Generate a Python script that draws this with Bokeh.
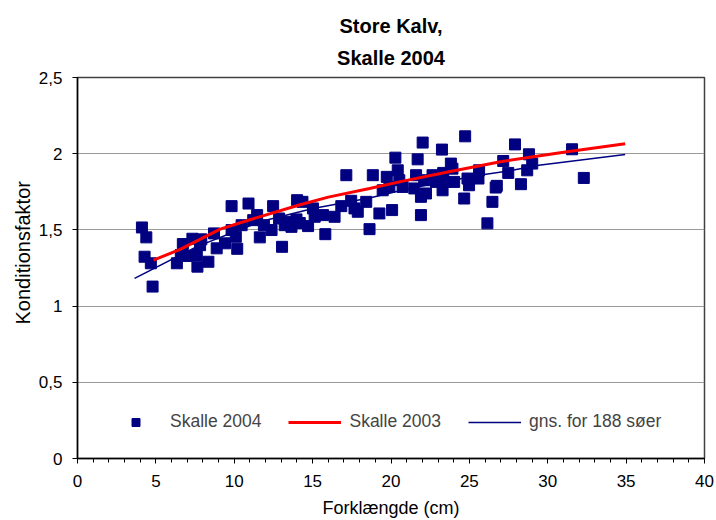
from bokeh.plotting import figure
from bokeh.models import FixedTicker, Legend, LegendItem, Title, Range1d
from bokeh.embed import file_html
from bokeh.resources import INLINE

# Data: Skalle 2004 points (forklængde cm, konditionsfaktor)
x2004 = [4.11, 4.39, 4.28, 4.68, 4.79, 6.72, 6.59, 6.34, 6.97, 7.33, 7.61, 7.65, 7.90, 7.82,
         8.35, 8.71, 8.88, 9.41, 9.83, 9.83, 10.10, 10.19, 10.47, 10.91, 11.21, 11.46, 11.63,
         11.89, 12.38, 12.48, 12.86, 13.05, 13.22, 13.54, 13.65, 14.01, 14.35, 13.97, 14.71,
         15.02, 15.13, 14.18, 15.66, 15.81, 16.40, 16.83, 17.15, 17.46, 17.67, 17.88, 18.42,
         18.63, 18.84, 19.26, 19.47, 19.73, 20.07, 20.28, 20.43, 19.90, 20.53, 20.74, 21.60,
         21.70, 21.49, 21.91, 21.91, 22.02, 22.23, 22.12, 22.65, 22.87, 23.25, 23.33, 23.40,
         23.29, 23.82, 23.92, 24.03, 24.67, 24.73, 24.88, 24.98, 25.62, 25.58, 26.15, 26.47,
         26.68, 26.75, 27.16, 27.48, 27.91, 28.29, 28.80, 28.69, 29.01, 31.55, 32.30]
y2004 = [1.516, 1.451, 1.324, 1.281, 1.128, 1.407, 1.335, 1.281, 1.329, 1.442, 1.335, 1.259,
         1.438, 1.400, 1.291, 1.477, 1.379, 1.412, 1.656, 1.499, 1.455, 1.376, 1.531, 1.673,
         1.564, 1.597, 1.451, 1.531, 1.499, 1.656, 1.575, 1.389, 1.531, 1.553, 1.520, 1.695,
         1.684, 1.569, 1.525, 1.641, 1.586, 1.545, 1.597, 1.472, 1.586, 1.656, 1.859, 1.691,
         1.641, 1.619, 1.684, 1.505, 1.859, 1.608, 1.760, 1.848, 1.630, 1.974, 1.891, 1.782,
         1.826, 1.782, 1.859, 1.963, 1.772, 1.717, 1.597, 2.073, 1.739, 1.826, 1.859, 1.815,
         2.027, 1.874, 1.815, 1.760, 1.935, 1.902, 1.815, 1.706, 2.114, 1.837, 1.793, 1.891,
         1.837, 1.543, 1.684, 1.778, 1.789, 1.952, 1.874, 2.061, 1.800, 1.996, 1.891, 1.935,
         2.029, 1.841]

# Skalle 2003 curve
x2003 = [4.85, 6.55, 9.1, 11.1, 14.2, 16.0, 18.63, 20.53, 23.7, 26.9, 30.9, 34.94]
y2003 = [1.302, 1.372, 1.505, 1.57, 1.665, 1.715, 1.772, 1.815, 1.882, 1.946, 2.008, 2.066]

# Average for 188 lakes
xgns = [3.64, 7.61, 11.63, 15.02, 18.63, 21.17, 25.62, 27.74, 29.43, 34.94]
ygns = [1.182, 1.39, 1.553, 1.641, 1.71, 1.772, 1.859, 1.891, 1.924, 1.994]

x_ticks = [0, 5, 10, 15, 20, 25, 30, 35, 40]
y_ticks = [0, 0.5, 1, 1.5, 2, 2.5]
y_tick_labels = {0: "0", 0.5: "0,5", 1: "1", 1.5: "1,5", 2: "2", 2.5: "2,5"}

FONT = "Liberation Sans"

p = figure(width=716, height=520, output_backend="svg", toolbar_location=None,
           x_range=Range1d(0, 40), y_range=Range1d(0, 2.5),
           min_border_left=77, min_border_right=12, min_border_top=77, min_border_bottom=61)
p.title = None
p.add_layout(Title(text="Skalle 2004", align="center", text_font=FONT, text_font_size="20px",
                   text_font_style="bold", text_color="black", standoff=17), "above")
p.add_layout(Title(text="Store Kalv,", align="center", text_font=FONT, text_font_size="20px",
                   text_font_style="bold", text_color="black", standoff=0), "above")

p.background_fill_color = "white"
p.border_fill_color = "white"
p.outline_line_color = "#404040"
p.outline_line_width = 1.5

p.xgrid.grid_line_color = None
p.ygrid.grid_line_color = "#999999"
p.ygrid.grid_line_width = 1
p.ygrid.ticker = FixedTicker(ticks=y_ticks)

p.xaxis.ticker = FixedTicker(ticks=x_ticks, minor_ticks=list(range(0, 41)))
p.yaxis.ticker = FixedTicker(ticks=y_ticks)
p.yaxis.major_label_overrides = y_tick_labels
for ax in (p.xaxis[0], p.yaxis[0]):
    ax.axis_line_color = "black"
    ax.axis_line_width = 1.5
    ax.major_tick_line_color = "black"
    ax.minor_tick_line_color = "black"
    ax.major_tick_in = 0
    ax.major_tick_out = 5
    ax.major_label_text_font = FONT
    ax.major_label_text_font_size = "17px"
    ax.major_label_text_color = "black"
    ax.axis_label_text_font = FONT
    ax.axis_label_text_font_style = "normal"
    ax.axis_label_text_color = "black"
p.xaxis.minor_tick_in = 0
p.xaxis.minor_tick_out = 4
p.xaxis.major_label_standoff = 11
p.yaxis.major_label_standoff = 10
p.yaxis.minor_tick_line_color = None
p.xaxis.axis_label = "Forklængde (cm)"
p.xaxis.axis_label_text_font_size = "18px"
p.xaxis.axis_label_standoff = 8

# y-axis title as a left-side title, placed slightly above the frame centre
p.add_layout(Title(text="Konditionsfaktor", align="left", text_font=FONT,
                   text_font_size="20px", text_font_style="normal", text_color="black",
                   standoff=4, offset=134), "left")

r_pts = p.scatter(x2004, y2004, marker="square", size=11, fill_color="#000080",
                  line_color="#000080")
r_red = p.line(x2003, y2003, line_color="#ff0000", line_width=3)
r_blue = p.line(xgns, ygns, line_color="#000080", line_width=1.5)

legend = Legend(items=[LegendItem(label="Skalle 2004", renderers=[r_pts]),
                       LegendItem(label="Skalle 2003", renderers=[r_red]),
                       LegendItem(label="gns. for 188 søer", renderers=[r_blue])],
                orientation="horizontal", location=(32, 26),
                label_text_font=FONT, label_text_font_size="17.5px",
                border_line_color=None, background_fill_alpha=0,
                glyph_width=53, spacing=27, label_standoff=8)
p.add_layout(legend, "center")

open("out.html", "w").write(file_html(p, INLINE))
